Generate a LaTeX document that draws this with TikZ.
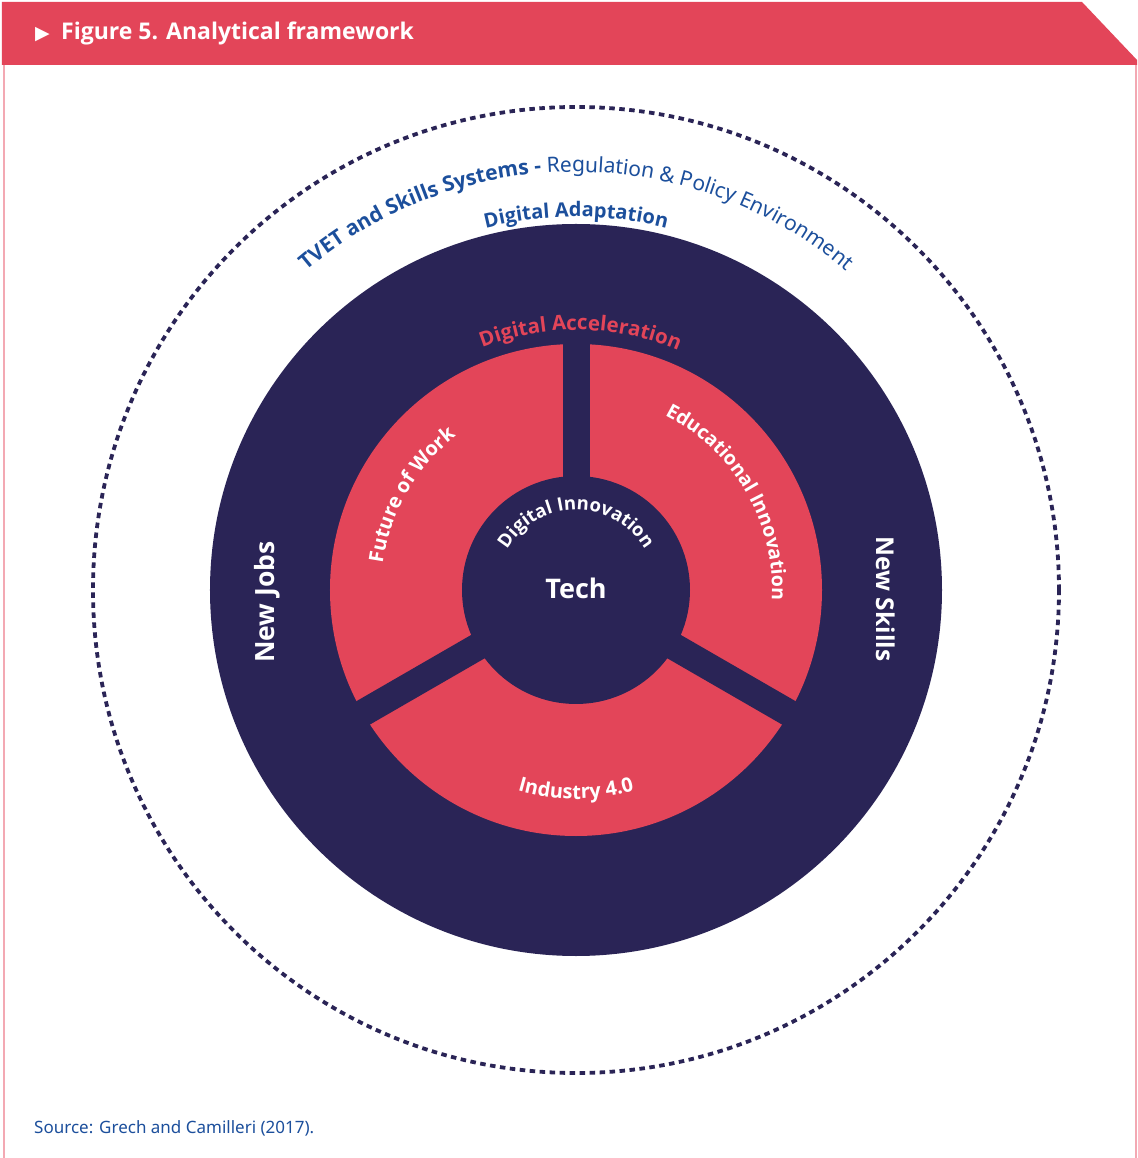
\documentclass[tikz,border=0pt]{standalone}
\usepackage{fontspec}
\setmainfont{Noto Sans}[BoldFont={Open Sans Bold}]
\newfontfamily\symfam{DejaVu Sans}
\usetikzlibrary{decorations.text}
\definecolor{hred}{HTML}{E34559}
\definecolor{navy}{HTML}{2A2456}
\definecolor{tblue}{HTML}{1C4F9C}
\definecolor{framepink}{HTML}{F3A9B3}
\newcommand\myfs[1]{\fontsize{#1}{#1}\selectfont}
\begin{document}
\begin{tikzpicture}[x=1pt,y=1pt,
  whitebold/.style={text=white, font=\bfseries\myfs{#1}, inner sep=0pt}]
\useasboundingbox (-576,-568) rectangle (561,590);
\fill[white] (-576,-568) rectangle (561,590);
% frame
\draw[framepink, line width=1.3pt] (-572,525) -- (-572,-568);
\draw[framepink, line width=1.3pt] (560,525) -- (560,-568);
% header band
\fill[hred] (-574,588) -- (506,588) -- (561,530) -- (561,525) -- (-574,525) -- cycle;
\node[anchor=base west, text=white, font=\symfam\myfs{19}, inner sep=0pt] (tri) at (-541,550) {▶};
\node[anchor=base west, whitebold=23] (title) at (-515,550) {Figure 5. Analytical framework};
% dotted outer circle
\draw[navy, line width=3.8pt, dash pattern=on 5.5pt off 4.5pt] (0,0) circle[radius=483pt];
% navy disc
\fill[navy] (0,0) circle[radius=366pt];
% red ring
\fill[hred] (0,0) circle[radius=246pt];
\fill[navy] (0,0) circle[radius=114pt];
\foreach \a in {90,210,330}{
  \fill[navy, rotate=\a] (0,-13.5) rectangle (252,13.5);
}
% arc texts
\path[decorate, decoration={text along path, text align=center,
  text={|\color{tblue}\myfs{21}\bfseries|TVET and Skills Systems - |\color{tblue}\myfs{21}\mdseries|Regulation {\&} Policy Environment}}]
  (175:418pt) arc[start angle=175, end angle=5, radius=418pt];
\path[decorate, decoration={text along path, text align=center,
  text={|\color{tblue}\myfs{20}\bfseries|Digital Adaptation}}]
  (150:373pt) arc[start angle=150, end angle=30, radius=373pt];
\path[decorate, decoration={text along path, text align=center,
  text={|\color{hred}\myfs{20.5}\bfseries|Digital Acceleration}}]
  (149:260pt) arc[start angle=149, end angle=29, radius=260pt];
\path[decorate, decoration={text along path, text align=center,
  text={|\color{white}\myfs{18.5}\bfseries|Digital Innovation}}]
  (180:80pt) arc[start angle=180, end angle=0, radius=80pt];
\path[decorate, decoration={text along path, text align=center,
  text={|\color{white}\myfs{20}\bfseries|Future of Work}}]
  (190:195pt) arc[start angle=190, end angle=110, radius=195pt];
\path[decorate, decoration={text along path, text align=center,
  text={|\color{white}\myfs{19.5}\bfseries|Educational Innovation}}]
  (75:196pt) arc[start angle=75, end angle=-15, radius=196pt];
\path[decorate, decoration={text along path, text align=center,
  text={|\color{white}\myfs{20}\bfseries|Industry 4.0}}]
  (230:209pt) arc[start angle=230, end angle=310, radius=209pt];
% straight labels
\node[whitebold=27] (tech) at (0,2) {Tech};
\node[whitebold=26.5, rotate=90, anchor=base] (newjobs) at (-301,-12) {New Jobs};
\node[whitebold=24.5, rotate=-90, anchor=base] (newskills) at (300,-9) {New Skills};
% source
\node[anchor=base west, text=tblue, font=\myfs{17}, inner sep=0pt] (src) at (-542,-543) {Source: Grech and Camilleri (2017).};
\end{tikzpicture}
\end{document}
